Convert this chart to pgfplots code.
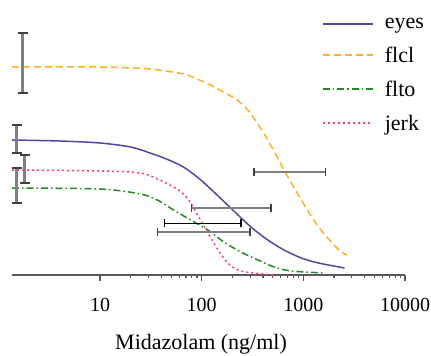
\documentclass[border=0pt]{standalone}
\usepackage{fontspec}
\setmainfont{Liberation Serif}
\usepackage{pgfplots}
\pgfplotsset{compat=1.18}
\definecolor{ceyes}{RGB}{80,72,165}
\definecolor{cflcl}{RGB}{255,175,40}
\definecolor{cflto}{RGB}{35,135,35}
\definecolor{cjerk}{RGB}{255,60,100}
\definecolor{ebar}{RGB}{128,128,128}
\begin{document}
\begin{tikzpicture}
\useasboundingbox (-12pt,-81pt) rectangle (419pt,275pt);
\begin{axis}[
  at={(0pt,0pt)}, anchor=south west,
  scale only axis, width=393pt, height=275pt,
  xmode=log, xmin=1.36, xmax=10000, ymin=0, ymax=275,
  axis x line=bottom, axis y line=none,
  axis line style={-, draw=black!65, line width=1.6pt},
  xtick={10,100,1000,10000}, xticklabels={10,100,1000,10000},
  minor xtick={},
  tick align=outside, major tick length=6pt,
  tick style={draw=black!65, line width=1.2pt},
  /pgf/number format/assume math mode=true,
  xticklabel style={font=\fontsize{20}{24}\selectfont, yshift=-14pt},
  xlabel={Midazolam (ng/ml)},
  xlabel style={font=\fontsize{22}{26}\selectfont, at={(axis description cs:0.481,-0.25)}, anchor=center},
  clip=false,
  legend style={at={(323pt,259pt)}, anchor=north west, draw=none, fill=none,
    font=\fontsize{22}{26}\selectfont, row sep=13pt, inner sep=0pt, cells={anchor=west}},
  legend cell align=left,
  legend image code/.code={\draw[#1] (0pt,0.5pt) -- (50pt,0.5pt); \path (59pt,0pt);},
]
\addlegendimage{ceyes, line width=2.2pt}
\addlegendentry{eyes}
\addlegendimage{cflcl, line width=2.2pt, dash pattern=on 7pt off 4pt}
\addlegendentry{flcl}
\addlegendimage{cflto, line width=2.2pt, dash pattern=on 7pt off 3pt on 1.5pt off 3pt}
\addlegendentry{flto}
\addlegendimage{cjerk, line width=2.2pt, dash pattern=on 2pt off 3pt}
\addlegendentry{jerk}
\addplot[forget plot, ceyes, line width=1.5pt, smooth] coordinates {(1.36,135) (4,134) (10,132) (20,128) (31,122) (45,116) (66,108) (98,95) (145,79) (207,64) (305,48) (447,35) (646,25) (955,17) (1410,12) (2540,7)};
\addplot[forget plot, cflcl, line width=1.5pt, dash pattern=on 7pt off 4pt, smooth] coordinates {(1.36,208) (10,208) (20,207) (31,206) (66,201) (100,194) (145,186) (229,174) (305,161) (447,135) (646,105) (955,75) (1410,48) (2240,25) (2690,20)};
\addplot[forget plot, cflto, line width=1.5pt, dash pattern=on 7pt off 3pt on 1.5pt off 3pt, smooth] coordinates {(1.36,87) (10,86) (24.9,81) (36.6,75) (52.9,65) (78,55) (115,45) (165,33) (243,23) (358,15) (516,8) (759,4) (1620,2)};
\addplot[forget plot, cjerk, line width=1.5pt, dash pattern=on 2pt off 3pt, smooth] coordinates {(1.36,105) (10,104) (24.9,102) (36.6,96) (52.9,88) (66,81) (78,72) (91,60) (115,42) (145,25) (181,12) (243,4) (500,0)};
% vertical error bars
\addplot[forget plot, ebar, line width=2.5pt, mark=-, mark size=5pt, mark options={draw=black!75, line width=1.8pt}] coordinates {(1.73,242) (1.73,182)};
\addplot[forget plot, ebar, line width=2.5pt, mark=-, mark size=5pt, mark options={draw=black!75, line width=1.8pt}] coordinates {(1.51,150) (1.51,122)};
\addplot[forget plot, ebar, line width=2.5pt, mark=-, mark size=5pt, mark options={draw=black!75, line width=1.8pt}] coordinates {(1.81,120) (1.81,92)};
\addplot[forget plot, ebar, line width=2.5pt, mark=-, mark size=5pt, mark options={draw=black!75, line width=1.8pt}] coordinates {(1.51,107) (1.51,72)};
% horizontal error bars
\addplot[forget plot, ebar, line width=2.5pt, mark=|, mark size=4pt, mark options={draw=black!75, line width=1.5pt}] coordinates {(327,103) (1652,103)};
\addplot[forget plot, ebar, line width=2.5pt, mark=|, mark size=4pt, mark options={draw=black!75, line width=1.5pt}] coordinates {(79.6,67) (482,67)};
\addplot[forget plot, black, line width=1pt, mark=|, mark size=4pt, mark options={draw=black, line width=1.5pt}] coordinates {(43,52) (243,52)};
\addplot[forget plot, ebar, line width=2.5pt, mark=|, mark size=4pt, mark options={draw=black!75, line width=1.5pt}] coordinates {(36.6,43) (299,43)};
\end{axis}
\end{tikzpicture}
\end{document}
